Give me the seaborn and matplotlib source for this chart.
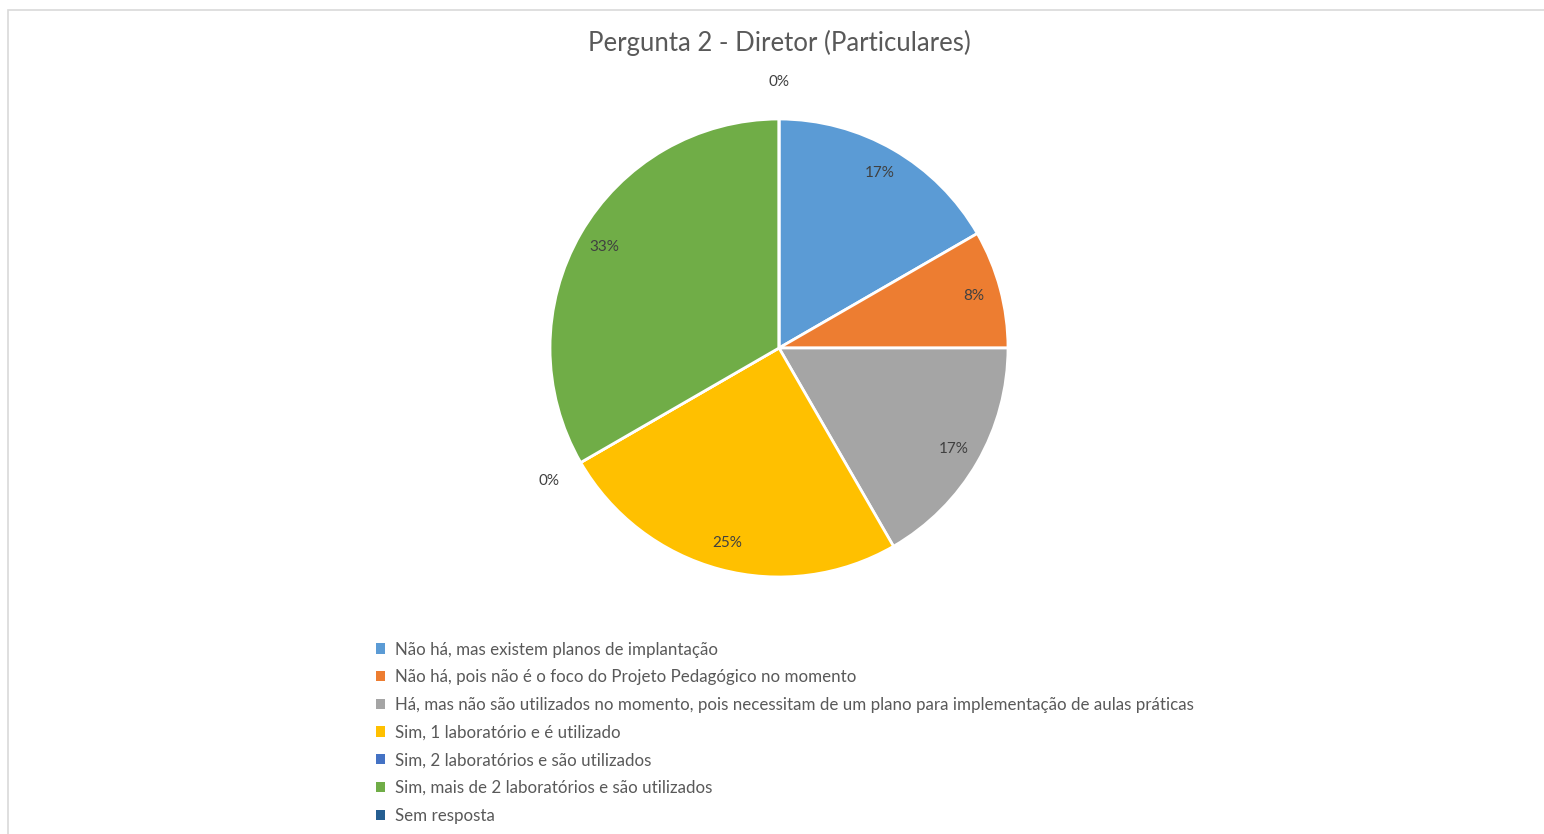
import numpy as np
import matplotlib
matplotlib.use("Agg")
import matplotlib.pyplot as plt
import seaborn as sns
from matplotlib.patches import Patch, Rectangle

categories = [
    "Não há, mas existem planos de implantação",
    "Não há, pois não é o foco do Projeto Pedagógico no momento",
    "Há, mas não são utilizados no momento, pois necessitam de um plano para implementação de aulas práticas",
    "Sim, 1 laboratório e é utilizado",
    "Sim, 2 laboratórios e são utilizados",
    "Sim, mais de 2 laboratórios e são utilizados",
    "Sem resposta",
]
counts = [2, 1, 2, 3, 0, 4, 0]
colors = ["#5B9BD5", "#ED7D31", "#A5A5A5", "#FFC000", "#4472C4", "#70AD47", "#255E91"]
title = "Pergunta 2 - Diretor (Particulares)"

sns.set_theme(style="white")
plt.rcParams['font.family'] = ['Lato', 'DejaVu Sans']

W, H = 1544, 834
fig = plt.figure(figsize=(W / 100, H / 100), dpi=100)

# chart frame (cropped on right/bottom)
fig.patches.append(Rectangle((8 / W, -0.01), 1.1, (H - 10) / H + 0.01,
                             transform=fig.transFigure, fill=False,
                             edgecolor="#d9d9d9", linewidth=1.2))

cx, cy, r = 779, 348, 229
lim = 1.3
side = 2 * lim * r
ax = fig.add_axes([(cx - side / 2) / W, (H - cy - side / 2) / H, side / W, side / H])

palette = sns.color_palette(colors)
wedges, texts, autotexts = ax.pie(
    counts, colors=palette, startangle=90, counterclock=False,
    autopct=lambda p: f"{p:.0f}%", pctdistance=0.88,
    wedgeprops=dict(edgecolor="white", linewidth=2),
    textprops=dict(color="#404040", fontsize=11))

for v, t in zip(counts, autotexts):
    if v == 0:
        x, y = t.get_position()
        t.set_position((x * 1.16 / 0.88, y * 1.16 / 0.88))

ax.set_xlim(-lim, lim)
ax.set_ylim(-lim, lim)
ax.set_aspect("equal")
ax.axis("off")

fig.text(cx / W, 1 - 43 / H, title, ha="center", va="center",
         fontsize=18.5, color="#595959")

handles = [Patch(facecolor=c, edgecolor="none") for c in palette]
fig.legend(handles, categories, loc="upper left",
           bbox_to_anchor=(376 / W, 1 - 641.5 / H), frameon=False,
           fontsize=12.2, labelcolor="#595959", handlelength=0.55,
           handleheight=0.55, handletextpad=0.55, labelspacing=0.69,
           borderaxespad=0, borderpad=0)

fig.savefig("out.png", dpi=100, facecolor="white")
